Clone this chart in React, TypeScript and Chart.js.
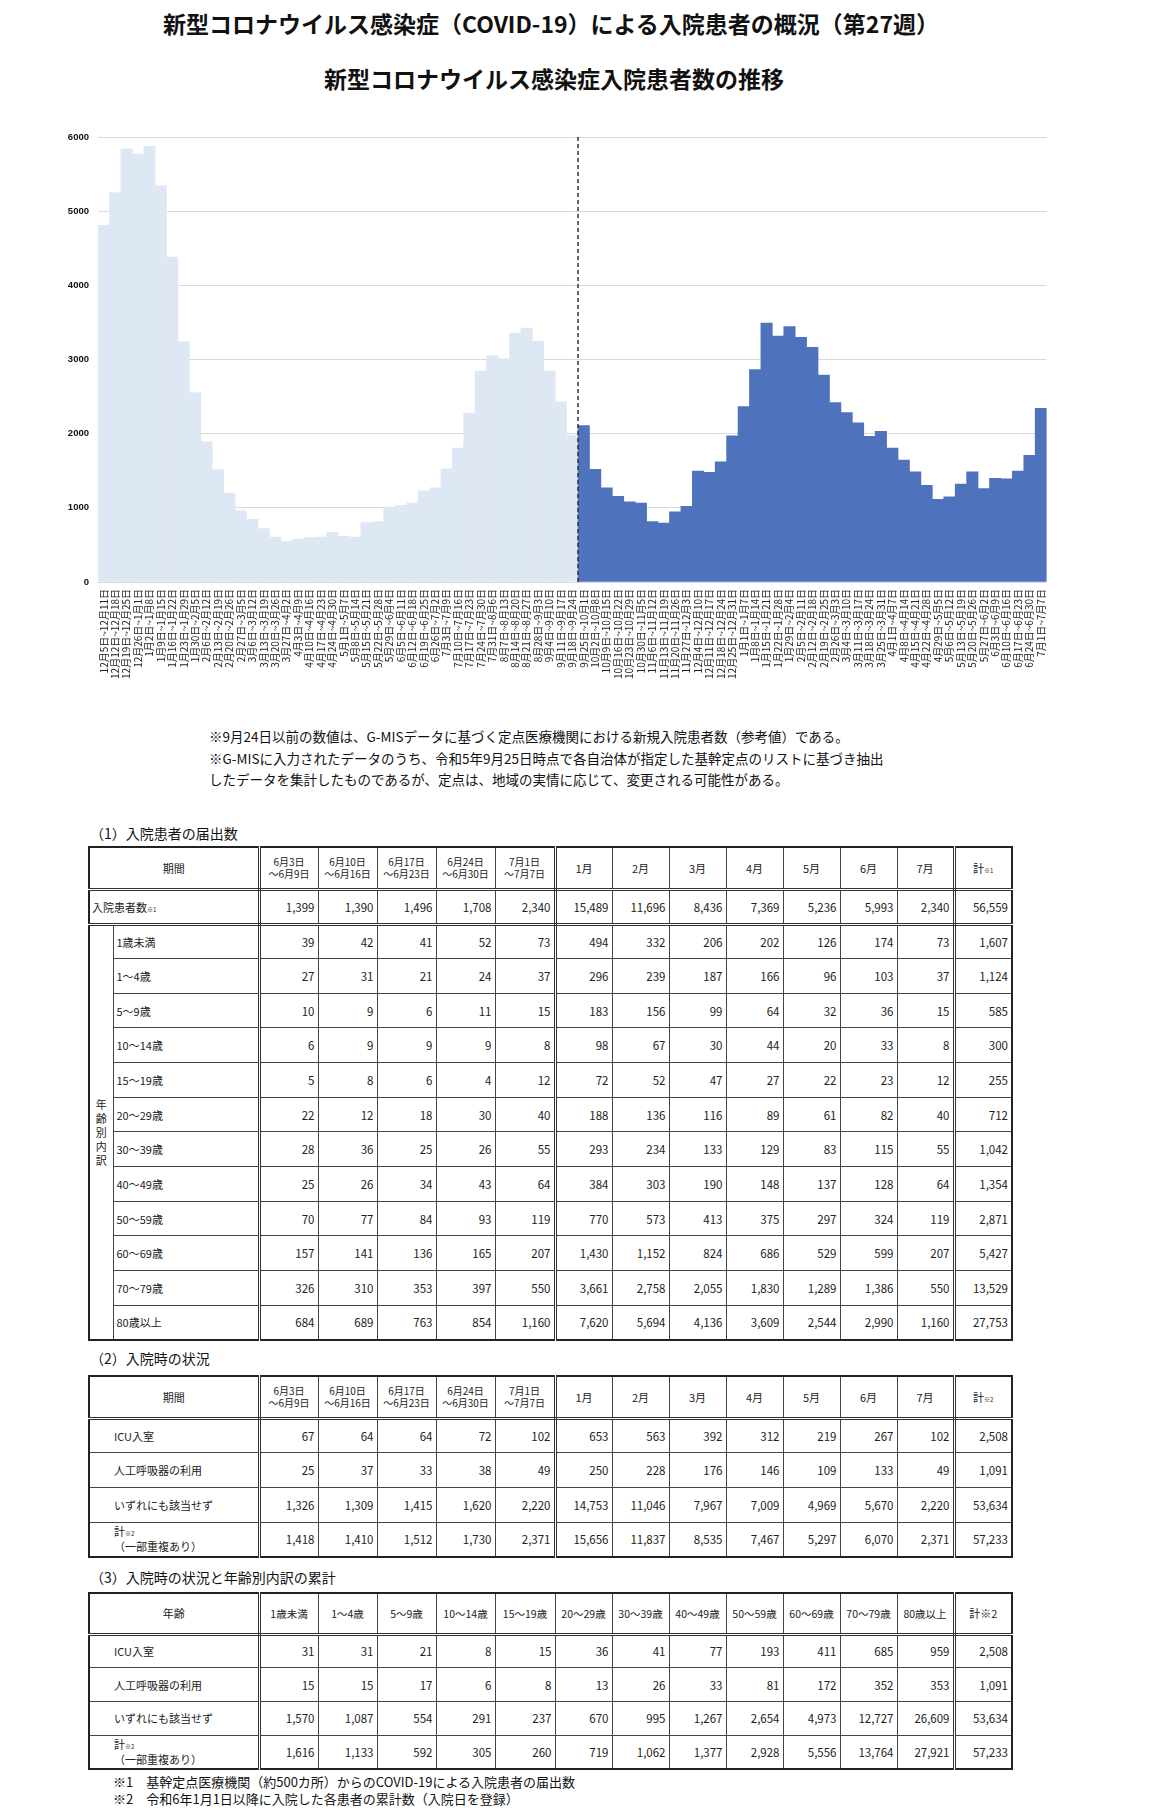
import React, { useEffect, useRef } from "react";
import { Chart, registerables } from "chart.js";

Chart.register(...registerables);

// ---------- chart data ----------
const weekLabels: string[] = [
  "12月5日~12月11日", "12月12日~12月18日", "12月19日~12月25日", "12月26日~1月1日",
  "1月2日~1月8日", "1月9日~1月15日", "1月16日~1月22日", "1月23日~1月29日", "1月30日~2月5日",
  "2月6日~2月12日", "2月13日~2月19日", "2月20日~2月26日", "2月27日~3月5日",
  "3月6日~3月12日", "3月13日~3月19日", "3月20日~3月26日", "3月27日~4月2日",
  "4月3日~4月9日", "4月10日~4月16日", "4月17日~4月23日", "4月24日~4月30日",
  "5月1日~5月7日", "5月8日~5月14日", "5月15日~5月21日", "5月22日~5月28日", "5月29日~6月4日",
  "6月5日~6月11日", "6月12日~6月18日", "6月19日~6月25日", "6月26日~7月2日",
  "7月3日~7月9日", "7月10日~7月16日", "7月17日~7月23日", "7月24日~7月30日", "7月31日~8月6日",
  "8月7日~8月13日", "8月14日~8月20日", "8月21日~8月27日", "8月28日~9月3日",
  "9月4日~9月10日", "9月11日~9月17日", "9月18日~9月24日",
  "9月25日~10月1日", "10月2日~10月8日", "10月9日~10月15日", "10月16日~10月22日", "10月23日~10月29日",
  "10月30日~11月5日", "11月6日~11月12日", "11月13日~11月19日", "11月20日~11月26日", "11月27日~12月3日",
  "12月4日~12月10日", "12月11日~12月17日", "12月18日~12月24日", "12月25日~12月31日",
  "1月1日~1月7日", "1月8日~1月14日", "1月15日~1月21日", "1月22日~1月28日", "1月29日~2月4日",
  "2月5日~2月11日", "2月12日~2月18日", "2月19日~2月25日", "2月26日~3月3日",
  "3月4日~3月10日", "3月11日~3月17日", "3月18日~3月24日", "3月25日~3月31日",
  "4月1日~4月7日", "4月8日~4月14日", "4月15日~4月21日", "4月22日~4月28日", "4月29日~5月5日",
  "5月6日~5月12日", "5月13日~5月19日", "5月20日~5月26日", "5月27日~6月2日",
  "6月3日~6月9日", "6月10日~6月16日", "6月17日~6月23日", "6月24日~6月30日", "7月1日~7月7日",
];

// G-MIS reference values (up to 9/24)
const beforeValues: number[] = [
  4810, 5250, 5840, 5770, 5875, 5340, 4380, 3240, 2555, 1890, 1515, 1200, 960, 845,
  720, 605, 550, 580, 600, 605, 670, 615, 605, 800, 810, 1010, 1035, 1065, 1230, 1270,
  1525, 1805, 2275, 2845, 3050, 3010, 3355, 3425, 3245, 2845, 2430, 1980,
];

// sentinel surveillance values (from 9/25)
const afterValues: number[] = [
  2110, 1520, 1270, 1155, 1080, 1065, 815, 795, 945, 1020, 1495, 1480, 1620, 1970,
  2365, 2865, 3490, 3315, 3445, 3300, 3165, 2790, 2420, 2285, 2145, 1965, 2030, 1805,
  1645, 1485, 1305, 1115, 1150, 1320, 1485, 1260, 1399, 1390, 1496, 1708, 2340,
];

const yMin = 0;
const yMax = 6000;
const yStep = 1000;

// ---------- table data ----------
const weekHeaders: string[][] = [
  ["6月3日", "〜6月9日"],
  ["6月10日", "〜6月16日"],
  ["6月17日", "〜6月23日"],
  ["6月24日", "〜6月30日"],
  ["7月1日", "〜7月7日"],
];
const monthHeaders: string[] = ["1月", "2月", "3月", "4月", "5月", "6月", "7月"];

const totalRowLabel = "入院患者数";
const totalRow: number[] = [1399, 1390, 1496, 1708, 2340, 15489, 11696, 8436, 7369, 5236, 5993, 2340, 56559];

const ageLabels: string[] = [
  "1歳未満", "1〜4歳", "5〜9歳", "10〜14歳", "15〜19歳", "20〜29歳",
  "30〜39歳", "40〜49歳", "50〜59歳", "60〜69歳", "70〜79歳", "80歳以上",
];
const ageRows: number[][] = [
  [39, 42, 41, 52, 73, 494, 332, 206, 202, 126, 174, 73, 1607],
  [27, 31, 21, 24, 37, 296, 239, 187, 166, 96, 103, 37, 1124],
  [10, 9, 6, 11, 15, 183, 156, 99, 64, 32, 36, 15, 585],
  [6, 9, 9, 9, 8, 98, 67, 30, 44, 20, 33, 8, 300],
  [5, 8, 6, 4, 12, 72, 52, 47, 27, 22, 23, 12, 255],
  [22, 12, 18, 30, 40, 188, 136, 116, 89, 61, 82, 40, 712],
  [28, 36, 25, 26, 55, 293, 234, 133, 129, 83, 115, 55, 1042],
  [25, 26, 34, 43, 64, 384, 303, 190, 148, 137, 128, 64, 1354],
  [70, 77, 84, 93, 119, 770, 573, 413, 375, 297, 324, 119, 2871],
  [157, 141, 136, 165, 207, 1430, 1152, 824, 686, 529, 599, 207, 5427],
  [326, 310, 353, 397, 550, 3661, 2758, 2055, 1830, 1289, 1386, 550, 13529],
  [684, 689, 763, 854, 1160, 7620, 5694, 4136, 3609, 2544, 2990, 1160, 27753],
];

const statusLabels: string[] = ["ICU入室", "人工呼吸器の利用", "いずれにも該当せず"];
const statusRows: number[][] = [
  [67, 64, 64, 72, 102, 653, 563, 392, 312, 219, 267, 102, 2508],
  [25, 37, 33, 38, 49, 250, 228, 176, 146, 109, 133, 49, 1091],
  [1326, 1309, 1415, 1620, 2220, 14753, 11046, 7967, 7009, 4969, 5670, 2220, 53634],
];
const statusTotalRow: number[] = [1418, 1410, 1512, 1730, 2371, 15656, 11837, 8535, 7467, 5297, 6070, 2371, 57233];

const cumAgeHeaders: string[] = [
  "1歳未満", "1〜4歳", "5〜9歳", "10〜14歳", "15〜19歳", "20〜29歳",
  "30〜39歳", "40〜49歳", "50〜59歳", "60〜69歳", "70〜79歳", "80歳以上",
];
const cumRows: number[][] = [
  [31, 31, 21, 8, 15, 36, 41, 77, 193, 411, 685, 959, 2508],
  [15, 15, 17, 6, 8, 13, 26, 33, 81, 172, 352, 353, 1091],
  [1570, 1087, 554, 291, 237, 670, 995, 1267, 2654, 4973, 12727, 26609, 53634],
];
const cumTotalRow: number[] = [1616, 1133, 592, 305, 260, 719, 1062, 1377, 2928, 5556, 13764, 27921, 57233];

// ---------- styles ----------
const FONT = "'Noto Sans CJK JP', 'Noto Sans', sans-serif";
const DARK_BLUE = "#4F72BD";
const LIGHT_BLUE = "#DEE8F4";
const THIN = "1px solid #444";
const DBL = "3px double #333";
const colWidths = [24, 146, 59, 59, 59, 59, 60, 57, 57, 57, 57, 57, 57, 57, 58];

const fmt = (n: number) => n.toLocaleString("en-US");

const tableStyle = (top: number): React.CSSProperties => ({
  position: "absolute",
  left: 88,
  top,
  width: 923,
  borderCollapse: "collapse",
  tableLayout: "fixed",
  border: "2px solid #222",
  fontFamily: FONT,
  fontSize: 11,
  color: "#222",
});

const baseCell: React.CSSProperties = {
  border: THIN,
  padding: "0 3px",
  whiteSpace: "nowrap",
  overflow: "hidden",
};

// right border by data-column index (0..12)
const dataRight = (i: number, doubleMid = true): string =>
  (i === 4 && doubleMid) || i === 11 ? DBL : THIN;

const Small = ({ t }: { t: string }) => (
  <span style={{ fontSize: 6, verticalAlign: "middle" }}>{t}</span>
);

const ColGroup = () => (
  <colgroup>
    {colWidths.map((w, i) => (
      <col key={i} style={{ width: w }} />
    ))}
  </colgroup>
);

const NumCells = ({ vals, bottom, doubleMid = true, fontSize = 11.5 }: { vals: number[]; bottom?: string; doubleMid?: boolean; fontSize?: number }) => (
  <>
    {vals.map((v, i) => (
      <td
        key={i}
        style={{
          ...baseCell,
          textAlign: "right",
          fontSize,
          borderRight: dataRight(i, doubleMid),
          borderBottom: bottom || THIN,
        }}
      >
        {fmt(v)}
      </td>
    ))}
  </>
);

const PeriodHeader = ({ totalNote }: { totalNote: string }) => (
  <tr style={{ height: 42 }}>
    <td colSpan={2} style={{ ...baseCell, textAlign: "center", borderRight: DBL, borderBottom: DBL }}>期間</td>
    {weekHeaders.map((h, i) => (
      <td
        key={"w" + i}
        style={{ ...baseCell, textAlign: "center", fontSize: 10, lineHeight: "12px", borderRight: dataRight(i), borderBottom: DBL }}
      >
        {h[0]}
        <br />
        {h[1]}
      </td>
    ))}
    {monthHeaders.map((m, i) => (
      <td key={"m" + i} style={{ ...baseCell, textAlign: "center", borderRight: dataRight(i + 5), borderBottom: DBL }}>{m}</td>
    ))}
    <td style={{ ...baseCell, textAlign: "center", borderBottom: DBL }}>
      計<Small t={totalNote} />
    </td>
  </tr>
);

const TotalLabel = () => (
  <div style={{ lineHeight: "13px" }}>
    計<Small t="※2" />
    <br />
    （一部重複あり）
  </div>
);

function BarChart() {
  const ref = useRef<HTMLCanvasElement | null>(null);
  useEffect(() => {
    if (!ref.current) return;
    const values = [...beforeValues, ...afterValues];
    const colors = values.map((_, i) => (i < beforeValues.length ? LIGHT_BLUE : DARK_BLUE));
    const splitLine = {
      id: "splitLine",
      afterDatasetsDraw(chart: any) {
        const xs = chart.scales.x;
        const { top, bottom } = chart.chartArea;
        const x = (xs.getPixelForValue(beforeValues.length - 1) + xs.getPixelForValue(beforeValues.length)) / 2;
        const ctx = chart.ctx;
        ctx.save();
        ctx.strokeStyle = "#333";
        ctx.lineWidth = 1.5;
        ctx.setLineDash([4, 3]);
        ctx.beginPath();
        ctx.moveTo(x, top);
        ctx.lineTo(x, bottom);
        ctx.stroke();
        ctx.restore();
      },
    };
    const chart = new Chart(ref.current, {
      type: "bar",
      data: {
        labels: weekLabels,
        datasets: [
          {
            data: values,
            backgroundColor: colors,
            borderWidth: 0,
            barPercentage: 1,
            categoryPercentage: 1,
          },
        ],
      },
      options: {
        animation: false,
        responsive: false,
        maintainAspectRatio: false,
        layout: { padding: { left: 0, right: 13, top: 17, bottom: 0 } },
        plugins: { legend: { display: false }, tooltip: { enabled: false }, title: { display: false } },
        scales: {
          x: {
            grid: { display: false, drawTicks: false },
            border: { display: false },
            ticks: {
              autoSkip: false,
              maxRotation: 90,
              minRotation: 90,
              padding: 7,
              color: "#222",
              font: { family: FONT, size: 10 },
            },
            afterFit: (s: any) => {
              s.height = 118;
            },
          },
          y: {
            min: yMin,
            max: yMax,
            grid: { color: "#D9D9D9", lineWidth: 1, drawTicks: false },
            border: { display: false },
            ticks: {
              stepSize: yStep,
              padding: 9,
              color: "#111",
              font: { family: "'Liberation Sans', Arial, sans-serif", size: 9.5, weight: "bold" },
              callback: (v: any) => String(v),
            },
            afterFit: (s: any) => {
              s.width = 58;
            },
          },
        },
      },
      plugins: [splitLine],
    } as any);
    return () => chart.destroy();
  }, []);
  return (
    <canvas
      ref={ref}
      width={1020}
      height={580}
      style={{ position: "absolute", left: 40, top: 120, width: 1020, height: 580, display: "block" }}
    />
  );
}

const abs = (left: number, top: number, extra: React.CSSProperties = {}): React.CSSProperties => ({
  position: "absolute",
  left,
  top,
  whiteSpace: "nowrap",
  fontFamily: FONT,
  color: "#111",
  ...extra,
});

export default function App() {
  return (
    <div style={{ position: "absolute", left: 0, top: 0, width: 1170, height: 1818, background: "#fff", overflow: "hidden" }}>
      <div style={abs(0, 7, { width: 1102, textAlign: "center", fontSize: 23, fontWeight: 700, lineHeight: "32px" })}>
        新型コロナウイルス感染症（COVID-19）による入院患者の概況（第27週）
      </div>
      <div style={abs(0, 62, { width: 1108, textAlign: "center", fontSize: 23, fontWeight: 700, lineHeight: "32px" })}>
        新型コロナウイルス感染症入院患者数の推移
      </div>

      <BarChart />

      <div style={abs(209, 726, { fontSize: 13.5, lineHeight: "21.5px" })}>
        <div>※9月24日以前の数値は、G-MISデータに基づく定点医療機関における新規入院患者数（参考値）である。</div>
        <div>※G-MISに入力されたデータのうち、令和5年9月25日時点で各自治体が指定した基幹定点のリストに基づき抽出</div>
        <div>したデータを集計したものであるが、定点は、地域の実情に応じて、変更される可能性がある。</div>
      </div>

      {/* (1) */}
      <div style={abs(90, 823, { fontSize: 14, lineHeight: "20px" })}>（1）入院患者の届出数</div>
      <table style={tableStyle(846)}>
        <ColGroup />
        <tbody>
          <PeriodHeader totalNote="※1" />
          <tr style={{ height: 35 }}>
            <td colSpan={2} style={{ ...baseCell, padding: "0 2px", borderRight: DBL, borderBottom: DBL }}>
              {totalRowLabel}
              <Small t="※1" />
            </td>
            <NumCells vals={totalRow} bottom={DBL} />
          </tr>
          {ageRows.map((row, r) => (
            <tr key={r} style={{ height: 34.66 }}>
              {r === 0 && (
                <td rowSpan={ageRows.length} style={{ ...baseCell, padding: 0, textAlign: "center", verticalAlign: "middle", lineHeight: "14px" }}>
                  {"年齢別内訳".split("").map((c, k) => (
                    <div key={k}>{c}</div>
                  ))}
                </td>
              )}
              <td style={{ ...baseCell, borderRight: DBL }}>{ageLabels[r]}</td>
              <NumCells vals={row} />
            </tr>
          ))}
        </tbody>
      </table>

      {/* (2) */}
      <div style={abs(90, 1348, { fontSize: 14, lineHeight: "20px" })}>（2）入院時の状況</div>
      <table style={tableStyle(1375)}>
        <ColGroup />
        <tbody>
          <PeriodHeader totalNote="※2" />
          {statusRows.map((row, r) => (
            <tr key={r} style={{ height: 34.7 }}>
              <td colSpan={2} style={{ ...baseCell, paddingLeft: 24, borderRight: DBL }}>{statusLabels[r]}</td>
              <NumCells vals={row} />
            </tr>
          ))}
          <tr style={{ height: 34.7 }}>
            <td colSpan={2} style={{ ...baseCell, paddingLeft: 24, borderRight: DBL }}>
              <TotalLabel />
            </td>
            <NumCells vals={statusTotalRow} />
          </tr>
        </tbody>
      </table>

      {/* (3) */}
      <div style={abs(90, 1567, { fontSize: 14, lineHeight: "20px" })}>（3）入院時の状況と年齢別内訳の累計</div>
      <table style={tableStyle(1592)}>
        <ColGroup />
        <tbody>
          <tr style={{ height: 41 }}>
            <td colSpan={2} style={{ ...baseCell, textAlign: "center", borderRight: DBL, borderBottom: DBL }}>年齢</td>
            {cumAgeHeaders.map((h, i) => (
              <td key={i} style={{ ...baseCell, padding: 0, textAlign: "center", fontSize: 10.5, borderRight: dataRight(i, false), borderBottom: DBL }}>{h}</td>
            ))}
            <td style={{ ...baseCell, textAlign: "center", borderBottom: DBL }}>計※2</td>
          </tr>
          {cumRows.map((row, r) => (
            <tr key={r} style={{ height: 33.75 }}>
              <td colSpan={2} style={{ ...baseCell, paddingLeft: 24, borderRight: DBL }}>{statusLabels[r]}</td>
              <NumCells vals={row} doubleMid={false} />
            </tr>
          ))}
          <tr style={{ height: 33.75 }}>
            <td colSpan={2} style={{ ...baseCell, paddingLeft: 24, borderRight: DBL }}>
              <TotalLabel />
            </td>
            <NumCells vals={cumTotalRow} doubleMid={false} />
          </tr>
        </tbody>
      </table>

      <div style={abs(113, 1773, { fontSize: 13, lineHeight: "17px" })}>
        <div>※1　基幹定点医療機関（約500カ所）からのCOVID-19による入院患者の届出数</div>
        <div>※2　令和6年1月1日以降に入院した各患者の累計数（入院日を登録）</div>
      </div>
    </div>
  );
}
